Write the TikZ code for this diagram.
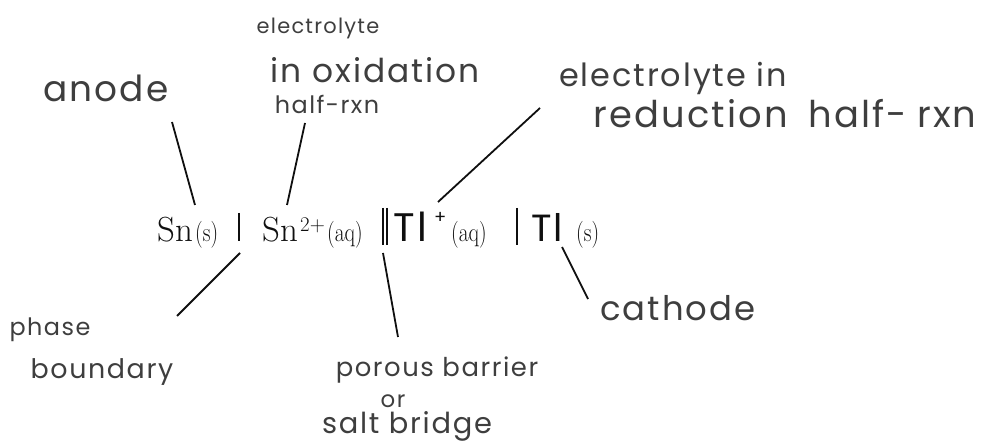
\documentclass[tikz,border=0pt]{standalone}
\usepackage{graphicx}
\usepackage{fontspec}
\newfontfamily\hand[LetterSpace=6]{Poppins}
\definecolor{pencil}{RGB}{62,62,62}
\definecolor{ink}{RGB}{15,15,15}
\newcommand{\phs}[1]{\scalebox{0.8}[1]{#1}}
\begin{document}
\begin{tikzpicture}[x=1bp,y=-1bp,
  hw/.style={inner sep=0pt,text=pencil},
  chem/.style={inner sep=0pt,anchor=base west,text=ink},
  small/.style={chem,font=\fontsize{27}{29}\selectfont},
  lead/.style={draw=ink,line width=1.8bp},
  bar/.style={draw=ink,line width=1.2bp}]
\useasboundingbox (0,0) rectangle (993,442);
% formula
\node[chem,font=\fontsize{35}{38}\selectfont] (sn1) at (157,242) {Sn};
\node[small] (s1) at (195,242) {\phs{(s)}};
\node[chem,font=\fontsize{35}{38}\selectfont] (sn2) at (262,242) {Sn};
\node[chem,font=\fontsize{21}{24}\selectfont] (chg) at (300,232) {2+};
\node[small] (aq1) at (327,242) {\phs{(aq)}};
\node[chem,font=\hand\fontsize{40}{44}\selectfont,text=ink] (tl1) at (393,242) {Tl};
\node[chem,font=\hand\fontsize{18}{20}\selectfont,text=ink] (plus) at (434,224) {+};
\node[small] (aq2) at (451,242) {\phs{(aq)}};
\node[chem,font=\hand\fontsize{38}{42}\selectfont,text=ink] (tl2) at (531,242) {Tl};
\node[small] (s2) at (576,242) {\phs{(s)}};
\coordinate (b1t) at (239,213); \coordinate (b1b) at (239,241);
\coordinate (b2t) at (383,208); \coordinate (b2b) at (383,245);
\coordinate (b3t) at (387,208); \coordinate (b3b) at (387,245);
\coordinate (b4t) at (517,208); \coordinate (b4b) at (517,245);
\draw[bar] (b1t) -- (b1b);
\draw[bar] (b2t) -- (b2b);
\draw[bar] (b3t) -- (b3b);
\draw[bar] (b4t) -- (b4b);
% labels
\node[hw,font=\hand\fontsize{36}{40}\selectfont] (anode) at (106,88) {anode};
\node[hw,font=\hand\fontsize{21}{24}\selectfont] (el1) at (318,28) {electrolyte};
\node[hw,font=\hand\fontsize{33}{36}\selectfont] (ox) at (375,70) {in oxidation};
\node[hw,font=\hand\fontsize{24}{27}\selectfont] (hr1) at (327,104) {half-rxn};
\node[hw,font=\hand\fontsize{32}{35}\selectfont] (el2) at (673,78) {electrolyte in};
\node[hw,font=\hand\fontsize{37}{40}\selectfont] (red) at (785,114) {reduction\hspace{20bp}half-\hspace{10bp}rxn};
\node[hw,font=\hand\fontsize{24}{27}\selectfont] (phase) at (50,330) {phase};
\node[hw,font=\hand\fontsize{27}{30}\selectfont] (bound) at (102,372) {boundary};
\node[hw,font=\hand\fontsize{26}{29}\selectfont] (por) at (437,370) {porous barrier};
\node[hw,font=\hand\fontsize{23}{26}\selectfont] (or) at (393,401) {or};
\node[hw,font=\hand\fontsize{29}{32}\selectfont] (salt) at (407,426) {salt bridge};
\node[hw,font=\hand\fontsize{34}{37}\selectfont] (cath) at (678,308) {cathode};
% leader lines
\coordinate (a1) at (172,122); \coordinate (a2) at (195,205);
\coordinate (h1) at (305,123); \coordinate (h2) at (287,205);
\coordinate (e1) at (540,108); \coordinate (e2) at (438,202);
\coordinate (p1) at (240,253); \coordinate (p2) at (177,316);
\coordinate (r1) at (383,253); \coordinate (r2) at (398,337);
\coordinate (c1) at (562,247); \coordinate (c2) at (588,299);
\draw[lead] (a1) -- (a2);
\draw[lead] (h1) -- (h2);
\draw[lead] (e1) -- (e2);
\draw[lead] (p1) -- (p2);
\draw[lead] (r1) -- (r2);
\draw[lead] (c1) -- (c2);
\end{tikzpicture}
\end{document}
